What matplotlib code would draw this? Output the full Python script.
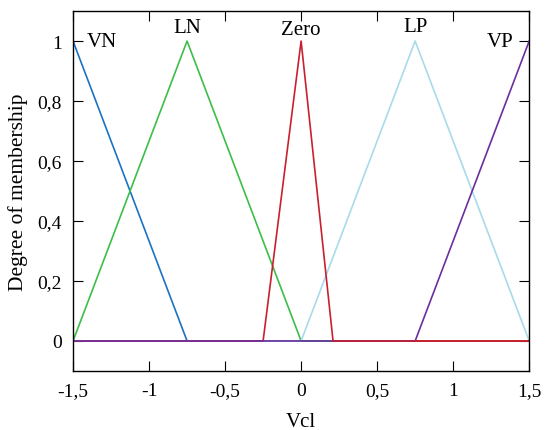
import matplotlib
matplotlib.use("Agg")
import matplotlib.pyplot as plt

# Membership function vertices
vn_x = [-1.5, -0.75, 1.5]
vn_y = [1, 0, 0]
ln_x = [-1.5, -0.75, 0, 1.5]
ln_y = [0, 1, 0, 0]
zero_x = [-1.5, -0.25, 0, 0.21, 1.5]
zero_y = [0, 0, 1, 0, 0]
lp_x = [-1.5, 0, 0.75, 1.5]
lp_y = [0, 0, 1, 0]
vp_x = [-1.5, 0.75, 1.5]
vp_y = [0, 0, 1]

labels = ["VN", "LN", "Zero", "LP", "VP"]
label_x = [-1.31, -0.75, 0.0, 0.75, 1.31]
label_y = [1.0, 1.045, 1.04, 1.047, 1.0]

xticks = [-1.5, -1, -0.5, 0, 0.5, 1, 1.5]
xticklabels = ["-1,5", "-1", "-0,5", "0", "0,5", "1", "1,5"]
yticks = [0, 0.2, 0.4, 0.6, 0.8, 1]
yticklabels = ["0", "0,2", "0,4", "0,6", "0,8", "1"]

plt.rcParams['font.family'] = ['Liberation Serif', 'DejaVu Serif']

fig = plt.figure(figsize=(5.45, 4.31), dpi=100)
ax = fig.add_axes([0.134, 0.137, 0.837, 0.835])

c_vn = '#1a72c2'
c_ln = '#3dbd4a'
c_zero = '#c8202f'
c_lp = '#a8dbea'
c_vp = '#6a2f9f'
lw = 1.2

ax.plot(vn_x, vn_y, color=c_vn, lw=lw)
ax.plot(ln_x, ln_y, color=c_ln, lw=lw)
ax.plot(lp_x, lp_y, color=c_lp, lw=lw)
ax.plot(zero_x, zero_y, color=c_zero, lw=lw)
ax.plot(vp_x, vp_y, color=c_vp, lw=lw)
ax.plot(zero_x[3:], zero_y[3:], color=c_zero, lw=lw)

for t, x, y in zip(labels, label_x, label_y):
    ax.text(x, y, t, ha='center', va='center', fontsize=15)

ax.set_xlim(-1.5, 1.5)
ax.set_ylim(-0.1, 1.1)
ax.set_xticks(xticks)
ax.set_xticklabels(xticklabels)
ax.set_yticks(yticks)
ax.set_yticklabels(yticklabels)
ax.tick_params(direction='in', top=True, right=True, length=7.5, labelsize=14, pad=8)
ax.set_xlabel("Vcl", fontsize=15, labelpad=9)
ax.set_ylabel("Degree of membership", fontsize=15.5, labelpad=7)
for s in ax.spines.values():
    s.set_linewidth(1.0)

fig.savefig("out.png", dpi=100)
